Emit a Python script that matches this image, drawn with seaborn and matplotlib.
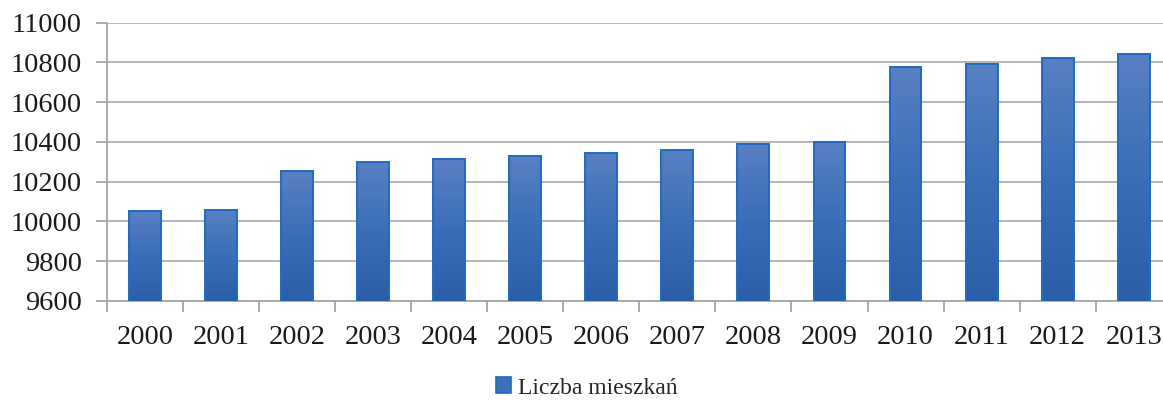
import numpy as np
import pandas as pd
import matplotlib
matplotlib.use("Agg")
import matplotlib.pyplot as plt
from matplotlib.ticker import FixedLocator
from matplotlib.colors import LinearSegmentedColormap
from matplotlib.patches import Patch, Rectangle
import seaborn as sns

years = ["2000", "2001", "2002", "2003", "2004", "2005", "2006",
         "2007", "2008", "2009", "2010", "2011", "2012", "2013"]
values = [10053, 10058, 10252, 10300, 10313, 10327, 10347,
          10360, 10390, 10402, 10778, 10793, 10820, 10845]
yticks = [9600, 9800, 10000, 10200, 10400, 10600, 10800, 11000]
series_name = "Liczba mieszkań"

df = pd.DataFrame({"rok": years, "wartosc": values})

sns.set_theme(style="white")
plt.rcParams['font.family'] = ['Liberation Serif', 'DejaVu Serif']

fig = plt.figure(figsize=(11.63, 4.0), dpi=100)
W, H = 1163, 400
left, right, top, bottom = 107, 1171.7, 22.7, 301
ax = fig.add_axes([left / W, 1 - bottom / H, (right - left) / W, (bottom - top) / H])

sns.barplot(data=df, x="rok", y="wartosc", ax=ax, color="#3a6db8",
            width=0.42, edgecolor="#1d6cc0", linewidth=1.4, zorder=3)

ymin, ymax = 9600, 11000
ax.set_ylim(ymin, ymax)
ax.set_xlim(-0.5, len(years) - 0.5)

# vertical gradient fill clipped to each bar (visible part only)
grad = np.linspace(0, 1, 256).reshape(-1, 1)
cmap = LinearSegmentedColormap.from_list("g", ["#5a7fc3", "#3a6fb8", "#2a5ea8"])
for p in list(ax.patches):
    x0 = p.get_x()
    w = p.get_width()
    htop = p.get_y() + p.get_height()
    im = ax.imshow(grad, extent=[x0, x0 + w, ymin, htop], aspect="auto",
                   cmap=cmap, zorder=3.5, origin="upper")
    clip = Rectangle((x0, ymin), w, htop - ymin, transform=ax.transData)
    im.set_clip_path(clip)
    p.set_zorder(4)
    p.set_facecolor("none")
    p.set_clip_on(True)
    p.set_clip_box(ax.bbox)
ax.set_xlim(-0.5, len(years) - 0.5)
ax.set_ylim(ymin, ymax)

ax.set_yticks(yticks)
ax.set_yticklabels([str(v) for v in yticks])
ax.yaxis.grid(True, color="#b0b0b0", linewidth=1.3, zorder=0)
ax.set_axisbelow(True)
ax.set_xlabel("")
ax.set_ylabel("")

for s in ["top", "right"]:
    ax.spines[s].set_visible(False)
for s in ["left", "bottom"]:
    ax.spines[s].set_visible(True)
    ax.spines[s].set_color("#a6a6a6")
    ax.spines[s].set_linewidth(1.3)

ax.tick_params(axis="y", which="major", length=8, width=1.3, color="#a6a6a6",
               labelsize=20.5, labelcolor="#1a1a1a", pad=10, left=True)
ax.tick_params(axis="x", which="major", length=0, labelsize=20.5,
               labelcolor="#1a1a1a", pad=17)
ax.xaxis.set_minor_locator(FixedLocator(np.arange(-0.5, len(years), 1.0)))
ax.tick_params(axis="x", which="minor", length=8, width=1.3, color="#a6a6a6",
               bottom=True)

handle = Patch(facecolor="#3f70ba", edgecolor="#1d6cc0", linewidth=1.2)
fig.legend([handle], [series_name], loc="center", bbox_to_anchor=(587 / W, 1 - 388 / H),
           frameon=False, fontsize=17, handlelength=0.65, handleheight=0.65,
           handletextpad=0.3, borderpad=0, borderaxespad=0)

fig.savefig("out.png", dpi=100)
